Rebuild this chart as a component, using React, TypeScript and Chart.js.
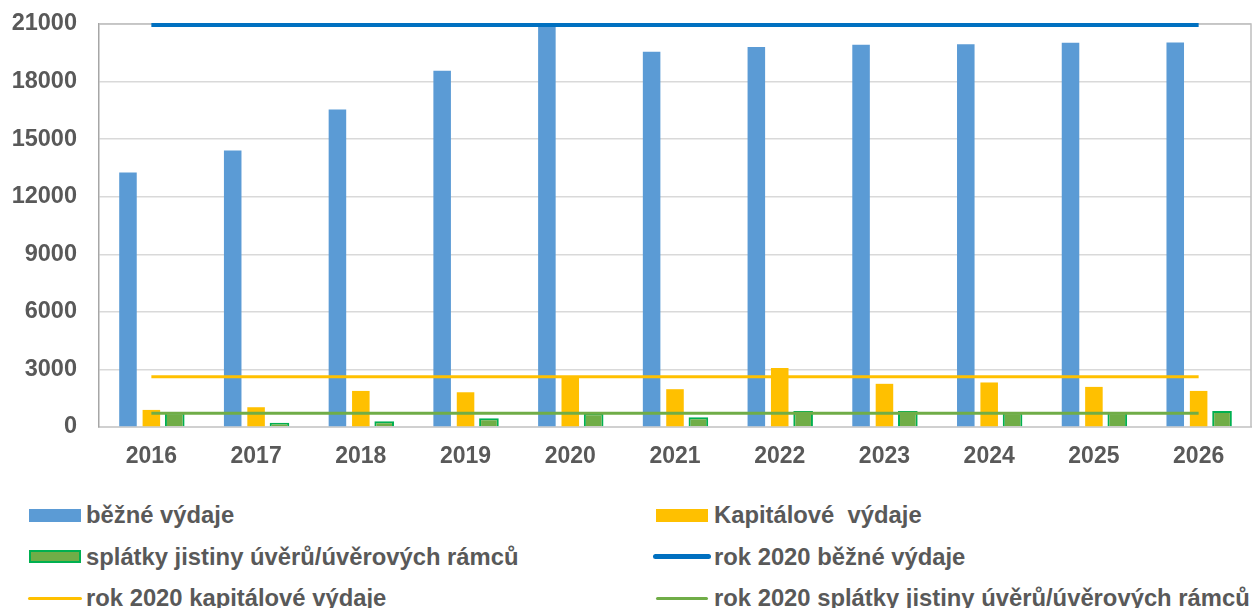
import React, { useEffect, useRef } from "react";
import { Chart, registerables } from "chart.js";

Chart.register(...registerables);

const years = ["2016", "2017", "2018", "2019", "2020", "2021", "2022", "2023", "2024", "2025", "2026"];
const bezneVydaje = [13260, 14410, 16550, 18560, 20950, 19550, 19800, 19920, 19950, 20020, 20040];
const kapitaloveVydaje = [890, 1030, 1880, 1810, 2620, 1970, 3080, 2250, 2320, 2090, 1880];
const splatkyJistiny = [750, 225, 300, 455, 720, 505, 835, 835, 770, 770, 835];
const rok2020Bezne = years.map(() => bezneVydaje[4]);
const rok2020Kapitalove = years.map(() => kapitaloveVydaje[4]);
const rok2020Splatky = years.map(() => splatkyJistiny[4]);
const yTicks = [0, 3000, 6000, 9000, 12000, 15000, 18000, 21000];

const legendItems = [
  { label: "běžné výdaje", kind: "box", fill: "#5B9BD5", border: "#5B9BD5" },
  { label: "Kapitálové  výdaje", kind: "box", fill: "#FFC000", border: "#FFC000" },
  { label: "splátky jistiny úvěrů/úvěrových rámců", kind: "box", fill: "#70AD47", border: "#00B050" },
  { label: "rok 2020 běžné výdaje", kind: "line", fill: "#0070C0", width: 5 },
  { label: "rok 2020 kapitálové výdaje", kind: "line", fill: "#FFC000", width: 3.5 },
  { label: "rok 2020 splátky jistiny úvěrů/úvěrových rámců", kind: "line", fill: "#70AD47", width: 3.5 },
];

const FONT = "'Liberation Sans', Arial, sans-serif";

const framePlugin = {
  id: "frame",
  beforeDatasetsDraw(chart: any) {
    const { ctx, chartArea } = chart;
    ctx.save();
    ctx.strokeStyle = "#BFBFBF";
    ctx.lineWidth = 1.5;
    ctx.beginPath();
    ctx.moveTo(chartArea.left, chartArea.top);
    ctx.lineTo(chartArea.right, chartArea.top);
    ctx.lineTo(chartArea.right, chartArea.bottom);
    ctx.stroke();
    ctx.restore();
  },
};

export default function App() {
  const canvasRef = useRef<HTMLCanvasElement | null>(null);

  useEffect(() => {
    if (!canvasRef.current) return;
    const chart = new Chart(canvasRef.current, {
      type: "bar",
      data: {
        labels: years,
        datasets: [
          {
            type: "line",
            label: "rok 2020 běžné výdaje",
            data: rok2020Bezne,
            borderColor: "#0070C0",
            borderWidth: 4,
            pointRadius: 0,
            clip: false,
            order: 0,
          } as any,
          {
            type: "line",
            label: "rok 2020 kapitálové výdaje",
            data: rok2020Kapitalove,
            borderColor: "#FFC000",
            borderWidth: 3,
            pointRadius: 0,
            clip: false,
            order: 0,
          } as any,
          {
            type: "line",
            label: "rok 2020 splátky jistiny úvěrů/úvěrových rámců",
            data: rok2020Splatky,
            borderColor: "#70AD47",
            borderWidth: 3,
            pointRadius: 0,
            clip: false,
            order: 0,
          } as any,
          {
            label: "běžné výdaje",
            data: bezneVydaje,
            backgroundColor: "#5B9BD5",
            borderWidth: 0,
            barPercentage: 0.75,
            categoryPercentage: 0.67,
            order: 1,
          },
          {
            label: "Kapitálové  výdaje",
            data: kapitaloveVydaje,
            backgroundColor: "#FFC000",
            borderWidth: 0,
            barPercentage: 0.75,
            categoryPercentage: 0.67,
            order: 1,
          },
          {
            label: "splátky jistiny úvěrů/úvěrových rámců",
            data: splatkyJistiny,
            backgroundColor: "#70AD47",
            borderColor: "#00B050",
            borderWidth: 2,
            barPercentage: 0.84,
            categoryPercentage: 0.67,
            order: 1,
          },
        ],
      },
      options: {
        responsive: false,
        animation: false,
        layout: { padding: { top: 24, right: 3, left: 0, bottom: 0 } },
        plugins: {
          legend: { display: false },
          tooltip: { enabled: false },
        },
        scales: {
          x: {
            grid: { display: false, drawTicks: false },
            border: { color: "#D0D0D0", width: 2 },
            ticks: {
              color: "#595959",
              font: { family: FONT, size: 23, weight: "bold" },
              padding: 16,
            },
            afterFit: (scale: any) => {
              scale.height = 480 - 427;
              scale.paddingLeft = 0;
              scale.paddingRight = 0;
            },
          },
          y: {
            min: 0,
            max: 21000,
            afterBuildTicks: (scale: any) => {
              scale.ticks = yTicks.map((v) => ({ value: v }));
            },
            grid: { color: "#D9D9D9", lineWidth: 1.5, drawTicks: false },
            border: { color: "#A6A6A6", width: 1.5 },
            ticks: {
              color: "#595959",
              font: { family: FONT, size: 23.5, weight: "bold" },
              padding: 22,
              callback: (v: any) => String(v),
            },
            afterFit: (scale: any) => {
              scale.width = 99;
              scale.paddingTop = 0;
              scale.paddingBottom = 0;
            },
          },
        },
      },
      plugins: [framePlugin],
    });
    return () => chart.destroy();
  }, []);

  const rowY = [515, 556.5, 598.3];
  const boxX = [29, 656];
  const lineX = [28, 653];
  const textX = [86, 714];

  return (
    <div style={{ position: "absolute", left: 0, top: 0, width: 1254, height: 608, background: "#fff", overflow: "hidden" }}>
      <canvas ref={canvasRef} width={1254} height={480} style={{ display: "block" }} />
      {legendItems.map((it, i) => {
        const col = i % 2;
        const row = Math.floor(i / 2);
        const cy = rowY[row];
        const isBlueLine = it.kind === "line" && col === 1 && row === 1;
        return (
          <React.Fragment key={it.label}>
            {it.kind === "box" ? (
              <div
                style={{
                  position: "absolute",
                  left: boxX[col],
                  top: cy - 6.5,
                  width: 52,
                  height: 13,
                  boxSizing: "border-box",
                  background: it.fill,
                  border: `2px solid ${it.border}`,
                }}
              />
            ) : (
              <div
                style={{
                  position: "absolute",
                  left: isBlueLine ? lineX[col] : col === 0 ? lineX[col] : boxX[col],
                  top: cy - (it.width as number) / 2,
                  width: isBlueLine ? 58 : col === 0 ? 54 : 52,
                  height: it.width,
                  borderRadius: it.width,
                  background: it.fill,
                }}
              />
            )}
            <div
              style={{
                position: "absolute",
                left: textX[col],
                top: cy - 20,
                height: 40,
                display: "flex",
                alignItems: "center",
                whiteSpace: "pre",
                fontFamily: FONT,
                fontWeight: "bold",
                fontSize: 23.8,
                color: "#595959",
              }}
            >
              {it.label}
            </div>
          </React.Fragment>
        );
      })}
    </div>
  );
}
